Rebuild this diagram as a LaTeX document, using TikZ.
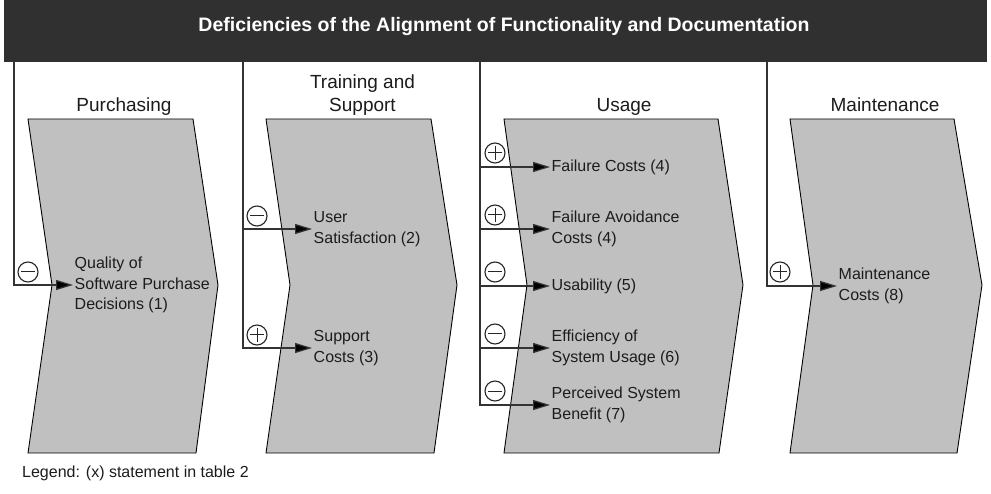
\documentclass[tikz,border=0pt]{standalone}
\usepackage{fontspec}
\setmainfont{Liberation Sans}
\usepackage{xcolor}
\usepackage{tikz}
\usetikzlibrary{positioning,arrows.meta,calc}
\definecolor{barcol}{HTML}{303030}
\definecolor{chevcol}{HTML}{C0C0C0}
\definecolor{inkcol}{HTML}{1C1C1C}

\begin{document}
\begin{tikzpicture}[
  x=1pt, y=-1pt,
  bar/.style={fill=barcol,draw=none,minimum width=983pt,minimum height=62pt,
              inner sep=0pt},
  titletxt/.style={text=white,font=\bfseries\fontsize{19.5}{23}\selectfont,
                   inner sep=0pt},
  phase/.style={text=inkcol,font=\fontsize{19}{23}\selectfont,align=center,
                inner sep=0pt},
  chev/.style={draw=black,fill=chevcol,line width=0.9pt},
  item/.style={text=inkcol,font=\fontsize{16}{20.5}\selectfont,align=left,
               anchor=west,inner xsep=1.5pt,inner ysep=0pt},
  conn/.style={draw=black!80,line width=1.2pt,
               -{Triangle[length=17pt,width=10pt,fill=black]}},
  sgn/.style={circle,draw=black!85,line width=1.1pt,minimum size=20pt,inner sep=0pt},
  sgnminus/.style={sgn,path picture={
      \draw[line width=1pt] ([xshift=3pt]path picture bounding box.west)
        -- ([xshift=-3pt]path picture bounding box.east);}},
  sgnplus/.style={sgn,path picture={
      \draw[line width=1pt] ([xshift=3pt]path picture bounding box.west)
        -- ([xshift=-3pt]path picture bounding box.east)
        ([yshift=-3pt]path picture bounding box.north)
        -- ([yshift=3pt]path picture bounding box.south);}},
]
  \useasboundingbox (0,0) rectangle (991,494);

  % header bar
  \node[bar] (bar) at (495.5,31) {};
  \node[titletxt,anchor=base] (title) at (504,32)
    {Deficiencies of the Alignment of Functionality and Documentation};

  \coordinate (pu) at (14,62);
  \coordinate (ts) at (243,62);
  \coordinate (us) at (480,62);
  \coordinate (mt) at (767,62);

  % phases
  \draw[chev] (28,119) -- (193,119) -- (218,285) -- (196,453) -- (28,453) -- (52,285) -- cycle;
  \draw[chev] (266,119) -- (431,119) -- (457,285) -- (434,453) -- (266,453) -- (290,285) -- cycle;
  \draw[chev] (504,119) -- (718,119) -- (743,285) -- (719,453) -- (504,453) -- (527,285) -- cycle;
  \draw[chev] (790,119) -- (954,119) -- (982,285) -- (957,453) -- (790,453) -- (813,285) -- cycle;

  \node[phase,anchor=base] (purch) at (124,112) {Purchasing};
  \node[phase,anchor=base] (train) at (362.5,112) {Training and\\Support};
  \node[phase,anchor=base] (usage) at (624,112) {Usage};
  \node[phase,anchor=base] (maint) at (885,112) {Maintenance};

  % effects
  \node[item] (quality)    at (73,285)  {Quality of\\Software Purchase\\Decisions (1)};
  \node[item] (usersat)    at (312,229) {User\\Satisfaction (2)};
  \node[item] (suppcost)   at (312,348) {Support\\Costs (3)};
  \node[item] (failcost)   at (550,167) {Failure Costs (4)};
  \node[item] (avoidcost)  at (550,229) {Failure Avoidance\\Costs (4)};
  \node[item] (usability)  at (550,286) {Usability (5)};
  \node[item] (efficiency) at (550,348) {Efficiency of\\System Usage (6)};
  \node[item] (benefit)    at (550,405) {Perceived System\\Benefit (7)};
  \node[item] (maintcost)  at (837,286) {Maintenance\\Costs (8)};

  \draw[conn] (pu) |- (quality.west);
  \draw[conn] (ts) |- (usersat.west);
  \draw[conn] (ts) |- (suppcost.west);
  \draw[conn] (us) |- (failcost.west);
  \draw[conn] (us) |- (avoidcost.west);
  \draw[conn] (us) |- (usability.west);
  \draw[conn] (us) |- (efficiency.west);
  \draw[conn] (us) |- (benefit.west);
  \draw[conn] (mt) |- (maintcost.west);

  % signs
  \node[sgnminus] (squality)    at ($(pu |- quality.west)+(14,-13)$)    {};
  \node[sgnminus] (susersat)    at ($(ts |- usersat.west)+(14,-13)$)    {};
  \node[sgnplus]  (ssuppcost)   at ($(ts |- suppcost.west)+(14,-13)$)   {};
  \node[sgnplus]  (sfailcost)   at ($(us |- failcost.west)+(15,-14)$)   {};
  \node[sgnplus]  (savoidcost)  at ($(us |- avoidcost.west)+(15,-14)$)  {};
  \node[sgnminus] (susability)  at ($(us |- usability.west)+(15,-14)$)  {};
  \node[sgnminus] (sefficiency) at ($(us |- efficiency.west)+(15,-14)$) {};
  \node[sgnminus] (sbenefit)    at ($(us |- benefit.west)+(15,-14)$)    {};
  \node[sgnplus]  (smaintcost)  at ($(mt |- maintcost.west)+(13,-14)$)  {};

  \node[item,anchor=base west,inner sep=0pt] (legend) at (22,477)
    {Legend: (x) statement in table 2};
\end{tikzpicture}
\end{document}
